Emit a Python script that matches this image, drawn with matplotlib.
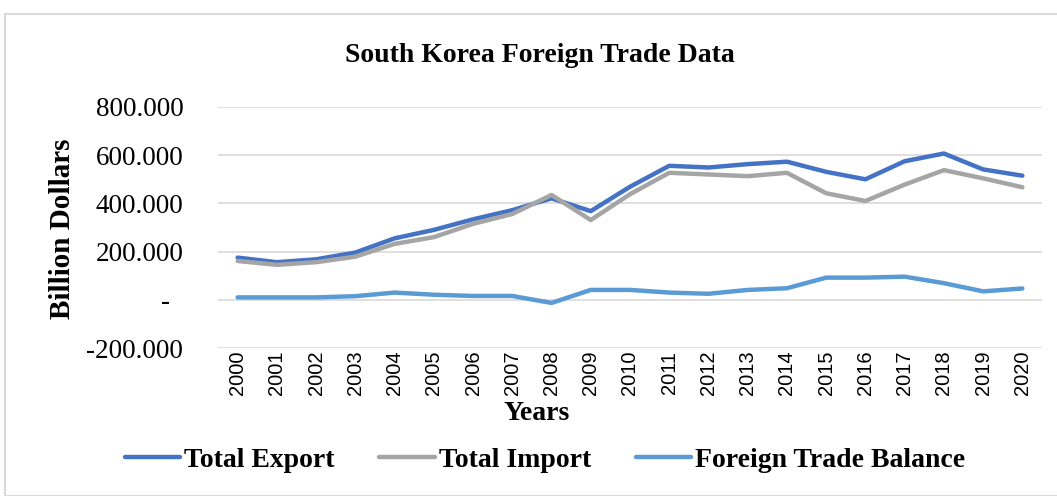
import matplotlib.pyplot as plt
from matplotlib.patches import Rectangle
from matplotlib.ticker import FuncFormatter

years = list(range(2000, 2021))
total_export = [175, 156, 168, 196, 255, 290, 334, 372, 421, 368, 469, 556, 549, 563, 573, 531, 500, 575, 607, 541, 515]
total_import = [161, 145, 156, 179, 232, 260, 315, 356, 435, 331, 438, 527, 520, 513, 527, 442, 410, 478, 538, 504, 467]
trade_balance = [10, 10, 10, 15, 30, 21, 16, 16, -13, 41, 41, 30, 25, 41, 48, 92, 92, 96, 69, 35, 47]

plt.rcParams['font.family'] = ['Liberation Serif', 'DejaVu Serif']

fig = plt.figure(figsize=(10.57, 4.96), dpi=100)
# chart frame
fig.patches.append(Rectangle((5 / 1057, 0), 1060 / 1057, (496 - 14) / 496, transform=fig.transFigure,
                             fill=False, edgecolor='#d9d9d9', linewidth=1.5))

ax = fig.add_axes([218 / 1057, (496 - 348) / 496, (1042 - 218) / 1057, (348 - 107) / 496])

ax.plot(years, total_export, color='#4472C4', lw=3.2, label='Total Export', solid_capstyle='round')
ax.plot(years, total_import, color='#A5A5A5', lw=3.2, label='Total Import', solid_capstyle='round')
ax.plot(years, trade_balance, color='#5B9BD5', lw=3.2, label='Foreign Trade Balance', solid_capstyle='round')

ax.set_ylim(-200, 800)
ax.set_xlim(1999.5, 2020.5)
ax.set_yticks(range(-200, 801, 200))
ax.yaxis.set_major_formatter(FuncFormatter(lambda v, p: '-  ' if v == 0 else f'{v:.0f}.000'))
ax.set_xticks(years)
ax.set_xticklabels([str(y) for y in years], rotation=90, family='Liberation Sans', fontsize=14.5)
ax.tick_params(axis='both', length=0)
ax.tick_params(axis='y', pad=25, labelsize=19.5)
ax.tick_params(axis='x', pad=2)
ax.grid(axis='y', color='#d9d9d9', lw=1.2)
ax.set_axisbelow(True)
for s in ax.spines.values():
    s.set_visible(False)

fig.text(63 / 1057, 1 - 229 / 496, 'Billion Dollars', rotation=90, ha='center', va='center',
         fontsize=21, fontweight='bold')
fig.text(537 / 1057, 1 - 413 / 496, 'Years', ha='center', va='center', fontsize=20, fontweight='bold')
fig.text(540 / 1057, 1 - 55 / 496, 'South Korea Foreign Trade Data', ha='center', va='center',
         fontsize=20, fontweight='bold')

fig.legend(loc='center', bbox_to_anchor=(545 / 1057, 1 - 460 / 496), ncol=3, frameon=False,
           prop={'size': 20, 'weight': 'bold'}, handlelength=2, handletextpad=0.15, columnspacing=1.6)

fig.savefig('out.png', dpi=100)
